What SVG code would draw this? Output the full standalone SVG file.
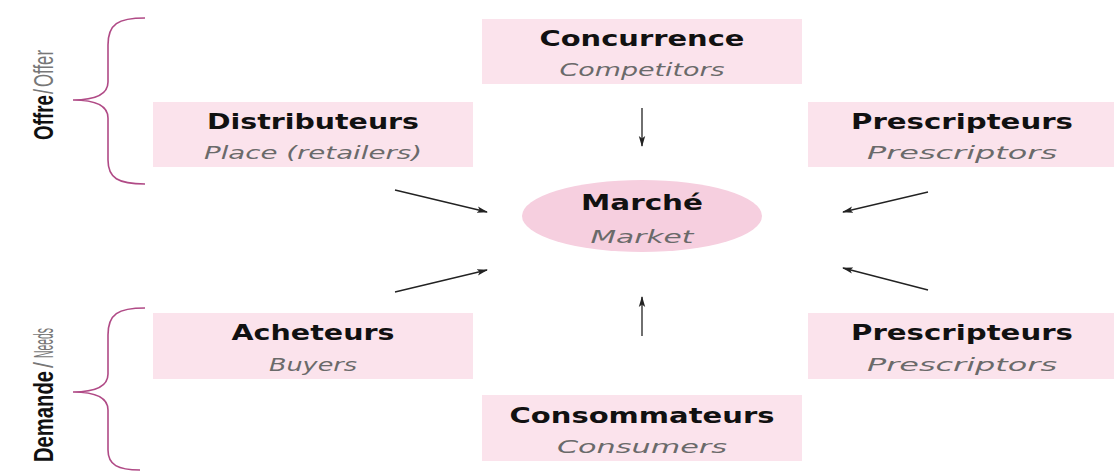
<svg xmlns="http://www.w3.org/2000/svg" width="1114" height="471" viewBox="0 0 1114 471">
<style>
.box{fill:#fbe3ec}
.ell{fill:#f6cfdf}
.t{font-family:"DejaVu Sans","Liberation Sans",sans-serif;font-weight:bold;font-size:21px;fill:#111;text-anchor:middle}
.s{font-family:"DejaVu Sans","Liberation Sans",sans-serif;font-style:italic;font-size:18px;fill:#6a6a6a;text-anchor:middle}
.brace{fill:none;stroke:#b04a86;stroke-width:1.6}
.side{font-family:"Liberation Sans",Arial,sans-serif;font-size:27px}
.sb{font-weight:bold;fill:#111}
.sg{fill:#777}
.arr{stroke:#222;stroke-width:1.3;fill:none;marker-end:url(#ah)}
</style>
<defs>
<marker id="ah" markerWidth="11" markerHeight="8" refX="10" refY="4" orient="auto" markerUnits="userSpaceOnUse">
<path d="M0,0.8 L11,4 L0,7.2 L2.5,4 z" fill="#222"/>
</marker>
</defs>
<rect width="1114" height="471" fill="#fff"/>

<g id="side-offre">
<path class="brace" d="M145,18 C118,18 108,24 108,45 L108,82 C108,96 92,100 73,100 C92,100 108,104 108,118 L108,160 C108,178 118,184 145,184"/>
<text class="side sb" transform="translate(53,140) rotate(-90)" textLength="45" lengthAdjust="spacingAndGlyphs">Offre</text>
<text class="side sg" transform="translate(53,94) rotate(-90)" textLength="5" lengthAdjust="spacingAndGlyphs">/</text>
<text class="side sg" transform="translate(53,87) rotate(-90)" textLength="37" lengthAdjust="spacingAndGlyphs">Offer</text>
</g>

<g id="side-demande">
<path class="brace" d="M145,308 C118,308 108,314 108,335 L108,374 C108,388 92,392 73,392 C92,392 108,396 108,410 L108,450 C108,465 118,470 140,470"/>
<text class="side sb" transform="translate(53,462) rotate(-90)" textLength="91" lengthAdjust="spacingAndGlyphs">Demande</text>
<text class="side sg" transform="translate(53,368) rotate(-90)" textLength="6" lengthAdjust="spacingAndGlyphs">/</text>
<text class="side sg" transform="translate(53,358) rotate(-90)" textLength="30" lengthAdjust="spacingAndGlyphs">Needs</text>
</g>

<g id="concurrence">
<rect class="box" x="482" y="19" width="320" height="65"/>
<text class="t" x="642" y="46" textLength="205" lengthAdjust="spacingAndGlyphs">Concurrence</text>
<text class="s" x="642" y="76" textLength="165" lengthAdjust="spacingAndGlyphs">Competitors</text>
</g>

<g id="distributeurs">
<rect class="box" x="153" y="102" width="320" height="65"/>
<text class="t" x="313" y="129" textLength="212" lengthAdjust="spacingAndGlyphs">Distributeurs</text>
<text class="s" x="313" y="159" textLength="218" lengthAdjust="spacingAndGlyphs">Place (retailers)</text>
</g>

<g id="prescripteurs-haut">
<rect class="box" x="808" y="102" width="320" height="65"/>
<text class="t" x="962" y="129" textLength="222" lengthAdjust="spacingAndGlyphs">Prescripteurs</text>
<text class="s" x="962" y="159" textLength="190" lengthAdjust="spacingAndGlyphs">Prescriptors</text>
</g>

<g id="marche">
<ellipse class="ell" cx="642" cy="216" rx="120" ry="36"/>
<text class="t" x="642" y="210" textLength="122" lengthAdjust="spacingAndGlyphs">Marché</text>
<text class="s" x="642" y="243" textLength="103" lengthAdjust="spacingAndGlyphs">Market</text>
</g>

<g id="acheteurs">
<rect class="box" x="153" y="313" width="320" height="66"/>
<text class="t" x="313" y="340" textLength="163" lengthAdjust="spacingAndGlyphs">Acheteurs</text>
<text class="s" x="313" y="371" textLength="88" lengthAdjust="spacingAndGlyphs">Buyers</text>
</g>

<g id="prescripteurs-bas">
<rect class="box" x="808" y="313" width="320" height="66"/>
<text class="t" x="962" y="340" textLength="222" lengthAdjust="spacingAndGlyphs">Prescripteurs</text>
<text class="s" x="962" y="371" textLength="190" lengthAdjust="spacingAndGlyphs">Prescriptors</text>
</g>

<g id="consommateurs">
<rect class="box" x="482" y="395" width="320" height="66"/>
<text class="t" x="642" y="423" textLength="265" lengthAdjust="spacingAndGlyphs">Consommateurs</text>
<text class="s" x="642" y="453" textLength="170" lengthAdjust="spacingAndGlyphs">Consumers</text>
</g>

<g id="connectors">
<line class="arr" x1="642" y1="108" x2="642" y2="146"/>
<line class="arr" x1="642" y1="336" x2="642" y2="297"/>
<line class="arr" x1="395" y1="190" x2="487" y2="212"/>
<line class="arr" x1="395" y1="292" x2="487" y2="270"/>
<line class="arr" x1="928" y1="192" x2="843" y2="212"/>
<line class="arr" x1="928" y1="290" x2="843" y2="268"/>
</g>
</svg>
